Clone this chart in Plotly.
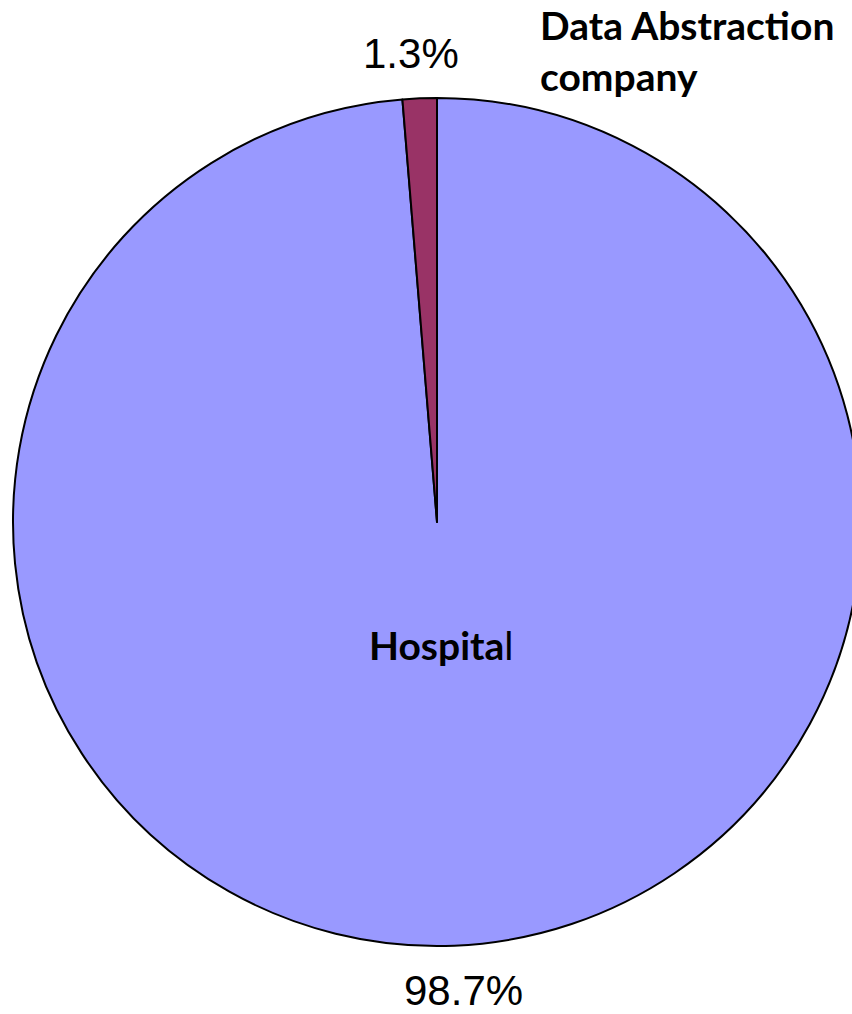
import plotly.graph_objects as go

categories = ["Hospital", "Data Abstraction company"]
shares = [98.7, 1.3]
share_labels = ["98.7%", "1.3%"]
colors = ["#9999FF", "#993366"]

W, H = 874, 1014

def px(x):
    return x / W

def py(y):
    return 1 - y / H

fig = go.Figure()
fig.add_trace(go.Pie(
    labels=categories,
    values=shares,
    sort=False,
    direction="clockwise",
    rotation=0,
    marker=dict(colors=colors, line=dict(color="black", width=2)),
    textinfo="none",
    hoverinfo="label+percent",
    showlegend=False,
    domain=dict(x=[0, 1], y=[py(946), py(98)]),
))

pct_font = dict(family="Liberation Sans, Arial", size=42, color="black")
lab_font = dict(family="Lato, Open Sans", size=39, color="black")

fig.add_annotation(x=px(411), y=py(53), xref="paper", yref="paper",
                   text=share_labels[1], showarrow=False, font=pct_font,
                   xanchor="center", yanchor="middle")
fig.add_annotation(x=px(463), y=py(990), xref="paper", yref="paper",
                   text=share_labels[0], showarrow=False, font=pct_font,
                   xanchor="center", yanchor="middle")
fig.add_annotation(x=px(538), y=py(50), xref="paper", yref="paper",
                   text="<b>Data Abstraction<br>company</b>", showarrow=False,
                   font=lab_font, xanchor="left", yanchor="middle", align="left")
fig.add_annotation(x=px(441), y=py(645), xref="paper", yref="paper",
                   text="<b>Hospita</b>l", showarrow=False,
                   font=lab_font, xanchor="center", yanchor="middle")

fig.update_layout(
    width=W, height=H,
    margin=dict(l=0, r=0, t=0, b=0, pad=0),
    paper_bgcolor="white", plot_bgcolor="white",
)

fig.write_html("out.html", config={"displayModeBar": False},
               post_script="document.body.style.margin='0';document.body.style.overflow='hidden';")
